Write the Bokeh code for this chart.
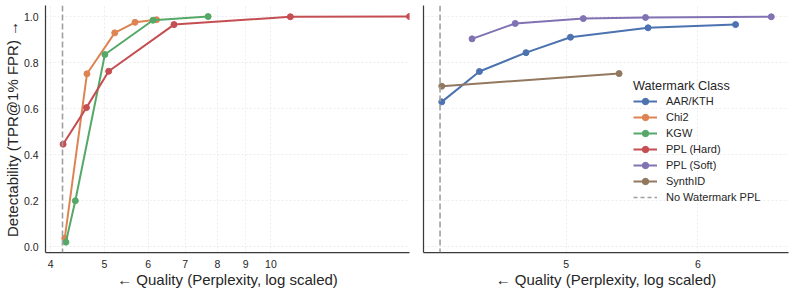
from bokeh.plotting import figure
from bokeh.layouts import row
from bokeh.models import (FixedTicker, Range1d, Legend, LegendItem, Span,
                          PrintfTickFormatter, ColumnDataSource)
from bokeh.embed import file_html
from bokeh.resources import INLINE

# ---- data (perplexity, TPR@1%FPR) ----
chi2_ppl = [4.24, 4.65, 5.22, 5.68, 6.21]
chi2_tpr = [0.036, 0.751, 0.929, 0.975, 0.986]
kgw_ppl = [4.26, 4.43, 5.01, 6.12, 7.70]
kgw_tpr = [0.019, 0.199, 0.835, 0.984, 1.0]
hard_ppl = [4.21, 4.64, 5.09, 6.68, 10.84, 17.8]
hard_tpr = [0.445, 0.604, 0.762, 0.965, 0.999, 1.0]
aar_ppl = [4.21, 4.435, 4.73, 5.03, 5.60, 6.32]
aar_tpr = [0.629, 0.761, 0.843, 0.910, 0.951, 0.965]
soft_ppl = [4.39, 4.66, 5.12, 5.58, 6.64]
soft_tpr = [0.903, 0.970, 0.991, 0.996, 0.999]
synth_ppl = [4.21, 5.38]
synth_tpr = [0.697, 0.752]
no_wm_ppl = 4.20

left_xticks = [4, 5, 6, 7, 8, 9, 10]
right_xticks = [5, 6]
y_ticks = [0.0, 0.2, 0.4, 0.6, 0.8, 1.0]

classes = ["AAR/KTH", "Chi2", "KGW", "PPL (Hard)", "PPL (Soft)", "SynthID"]
colors = ["#4C72B0", "#DD8452", "#55A868", "#C44E52", "#8172B3", "#937860"]
col = dict(zip(classes, colors))

FONT = "Liberation Sans"
TXT = "#262626"
SPINE = "#3a3a3a"
GRID = "#e9e9e9"
NOWM = "#a0a0a0"

y_range = Range1d(-0.026, 1.048)
H = 292


def style(p):
    p.outline_line_color = None
    for ax in (p.xaxis, p.yaxis):
        ax.axis_line_color = SPINE
        ax.axis_line_width = 1.25
        ax.major_tick_line_color = None
        ax.minor_tick_line_color = None
        ax.major_label_text_font = FONT
        ax.major_label_text_font_size = "10.5px"
        ax.major_label_text_color = TXT
        ax.axis_label_text_font = FONT
        ax.axis_label_text_font_size = "15px"
        ax.axis_label_text_font_style = "normal"
        ax.axis_label_text_color = TXT
    p.xaxis.major_label_standoff = 1
    p.xaxis.axis_label_standoff = 0
    p.yaxis.major_label_standoff = 1
    p.yaxis.axis_label_standoff = 0
    for g in (p.xgrid, p.ygrid):
        g.grid_line_color = GRID
        g.grid_line_dash = "2 2"
        g.grid_line_width = 0.8
    p.background_fill_color = "white"
    p.border_fill_color = "white"


def series(p, xs, ys, name):
    r1 = p.line(xs, ys, line_color=col[name], line_width=2)
    r2 = p.scatter(xs, ys, size=6, fill_color=col[name], line_color=col[name])
    return [r1, r2]


# ---------------- left panel ----------------
p1 = figure(width=414, height=H, x_axis_type="log",
            x_range=Range1d(3.913, 17.8), y_range=y_range,
            output_backend="svg", toolbar_location=None,
            min_border_top=5, min_border_bottom=40,
            min_border_left=44, min_border_right=5)
style(p1)
p1.xaxis.ticker = FixedTicker(ticks=left_xticks)
p1.xaxis.formatter = PrintfTickFormatter(format="%d")
p1.yaxis.ticker = FixedTicker(ticks=y_ticks)
p1.yaxis.formatter = PrintfTickFormatter(format="%.1f")
p1.xaxis.axis_label = "\u2190 Quality (Perplexity, log scaled)"
p1.yaxis.axis_label = "Detectability (TPR@1% FPR) \u2192"
p1.add_layout(Span(location=no_wm_ppl, dimension="height", line_color=NOWM,
                   line_width=1.6, line_dash="6 3"))
series(p1, chi2_ppl, chi2_tpr, "Chi2")
series(p1, kgw_ppl, kgw_tpr, "KGW")
series(p1, hard_ppl, hard_tpr, "PPL (Hard)")

# ---------------- right panel ----------------
p2 = figure(width=793 - 414, height=H, x_axis_type="log",
            x_range=Range1d(4.105, 6.80), y_range=y_range,
            output_backend="svg", toolbar_location=None,
            min_border_top=5, min_border_bottom=40,
            min_border_left=9, min_border_right=5)
style(p2)
p2.xaxis.ticker = FixedTicker(ticks=right_xticks)
p2.xaxis.formatter = PrintfTickFormatter(format="%d")
p2.yaxis.ticker = FixedTicker(ticks=[])
p2.ygrid.ticker = FixedTicker(ticks=y_ticks)
p2.xaxis.axis_label = "\u2190 Quality (Perplexity, log scaled)"
p2.add_layout(Span(location=no_wm_ppl, dimension="height", line_color=NOWM,
                   line_width=1.6, line_dash="6 3"))

items = {}
items["AAR/KTH"] = series(p2, aar_ppl, aar_tpr, "AAR/KTH")
items["PPL (Soft)"] = series(p2, soft_ppl, soft_tpr, "PPL (Soft)")
items["SynthID"] = series(p2, synth_ppl, synth_tpr, "SynthID")
# legend proxies (no visible data) for classes drawn only in the left panel
NAN = float("nan")
for name in ["Chi2", "KGW", "PPL (Hard)"]:
    src = ColumnDataSource(data=dict(x=[NAN], y=[NAN]))
    r1 = p2.line("x", "y", source=src, line_color=col[name], line_width=2)
    r2 = p2.scatter("x", "y", source=src, size=6, fill_color=col[name], line_color=col[name])
    items[name] = [r1, r2]
nowm_src = ColumnDataSource(data=dict(x=[NAN], y=[NAN]))
nowm_r = p2.line("x", "y", source=nowm_src, line_color=NOWM, line_width=1.6, line_dash="4 3")

legend = Legend(
    items=[LegendItem(label=n, renderers=items[n]) for n in classes]
    + [LegendItem(label="No Watermark PPL", renderers=[nowm_r])],
    location=(206, 43),
    title="Watermark Class",
    title_text_font=FONT, title_text_font_size="12.7px", title_text_color=TXT,
    title_text_font_style="normal", title_standoff=0,
    label_text_font=FONT, label_text_font_size="11px", label_text_color=TXT,
    glyph_width=24, glyph_height=16, label_height=16, spacing=0,
    label_standoff=9, padding=4, margin=0,
    border_line_alpha=0, background_fill_alpha=0,
)
p2.add_layout(legend)

layout = row(p1, p2, spacing=0)
open("out.html", "w").write(file_html(layout, INLINE))
